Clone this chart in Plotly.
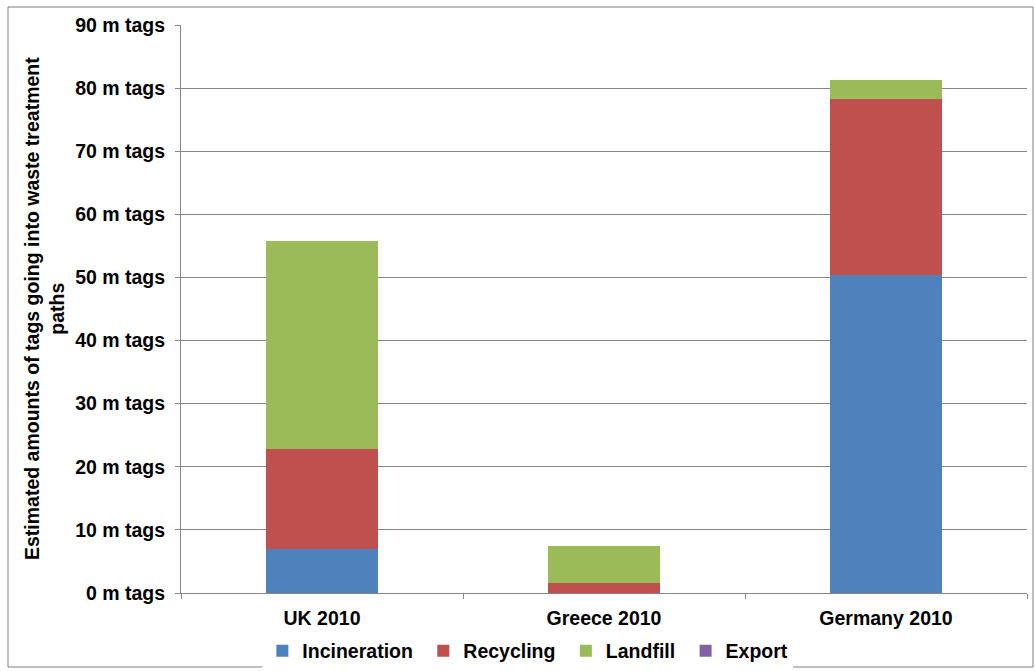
import plotly.graph_objects as go

categories = ["UK 2010", "Greece 2010", "Germany 2010"]
incineration = [7.0, 0.0, 50.4]
recycling = [15.8, 1.6, 27.8]
landfill = [33.0, 5.85, 3.1]
export = [0.0, 0.0, 0.0]

tick_vals = list(range(0, 100, 10))
tick_text = [f"<b>{v} m tags</b>" for v in tick_vals]

series = [
    ("Incineration", incineration, "#4F81BD"),
    ("Recycling", recycling, "#C0504D"),
    ("Landfill", landfill, "#9BBB59"),
    ("Export", export, "#8064A2"),
]

FAM = "Liberation Sans, Arial, sans-serif"
FS = 19.5

fig = go.Figure()
for i, (name, vals, col) in enumerate(series):
    label = f"<b>{name}</b>" + ("&nbsp;" if i < len(series) - 1 else "")
    fig.add_trace(go.Bar(x=categories, y=vals, name=label,
                         marker=dict(color=col, line=dict(width=0))))

fig.update_layout(
    barmode="stack",
    bargap=0.6,
    width=1035, height=671,
    margin=dict(l=181, r=8, t=25, b=78, autoexpand=False),
    plot_bgcolor="white", paper_bgcolor="white",
    font=dict(family=FAM, size=FS, color="black"),
    showlegend=True,
    legend=dict(orientation="h", xref="container", yref="container",
                x=0.51, xanchor="center", y=1 - 651 / 671, yanchor="middle",
                font=dict(family=FAM, size=FS, color="black"),
                itemwidth=30, traceorder="normal"),
    xaxis=dict(showline=True, linecolor="#868686", linewidth=1, ticks="outside",
               tickson="boundaries", ticklen=5, tickcolor="#868686", automargin=False,
               tickprefix="<b>", ticksuffix="</b>", ticklabelstandoff=8,
               tickfont=dict(family=FAM, size=FS, color="black")),
    yaxis=dict(range=[0, 90], tickvals=tick_vals, ticktext=tick_text,
               showgrid=True, gridcolor="#868686", gridwidth=1,
               showline=True, linecolor="#868686", ticks="outside", ticklen=5,
               tickcolor="#868686", zeroline=False, automargin=False,
               ticklabelstandoff=6,
               tickfont=dict(family=FAM, size=FS, color="black")),
)

# y axis title as a rotated annotation
fig.add_annotation(
    text="<b>Estimated amounts of tags going into waste treatment<br>paths</b>",
    xref="paper", yref="paper", x=(44 - 181) / 846, y=0.5,
    xanchor="center", yanchor="middle", textangle=-90, showarrow=False,
    font=dict(family=FAM, size=FS, color="black"),
)

# outer chart frame
fig.add_shape(type="rect", xref="paper", yref="paper",
              x0=(8 - 181) / 846, x1=(1033 - 181) / 846,
              y0=-(667 - 593) / 568, y1=1 + (25 - 7) / 568,
              line=dict(color="#7f7f7f", width=1), layer="below")

fig.write_html("out.html", config={"displayModeBar": False},
               post_script="document.body.style.margin='0';")
